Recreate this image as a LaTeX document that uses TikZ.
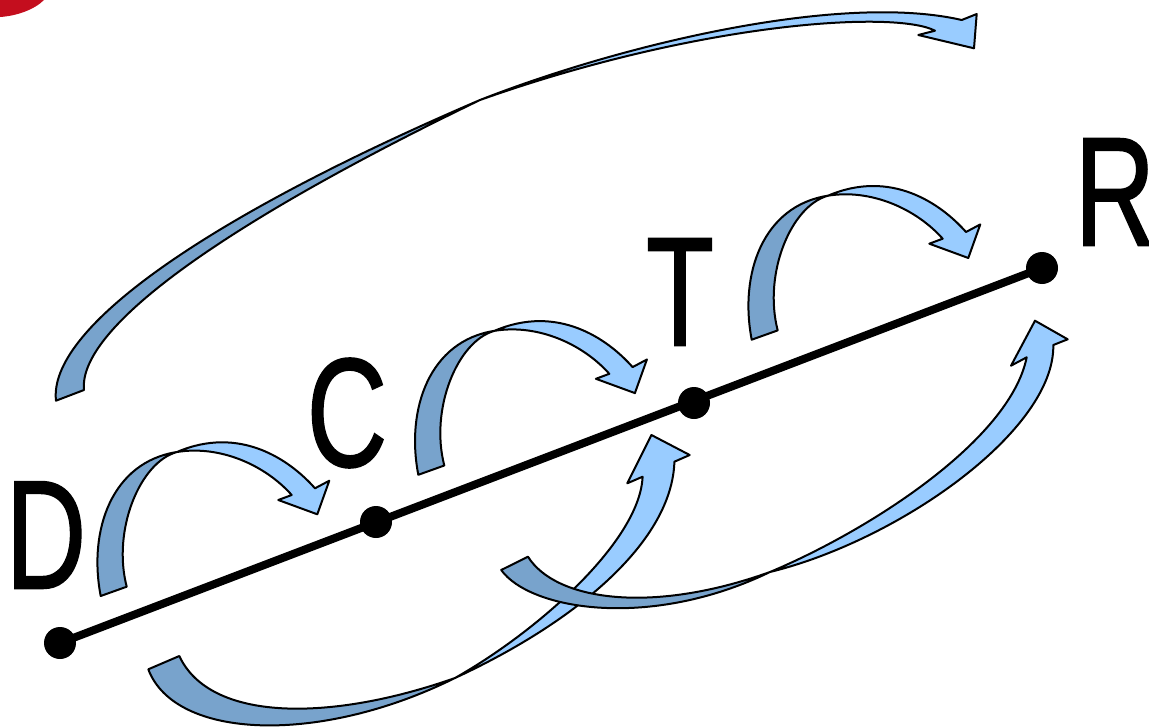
\documentclass[tikz,border=0pt]{standalone}
\usepackage{fontspec}
\setmainfont{Liberation Sans}
\newfontfamily\labelfont[FakeBold=1.2]{Liberation Sans}
\definecolor{ribbonfront}{HTML}{99CCFF}
\definecolor{ribbonback}{HTML}{78A3CC}
\definecolor{cornerred}{HTML}{C40E1E}

\begin{document}
\begin{tikzpicture}[x=1pt,y=-1pt,
    front/.style={fill=ribbonfront, draw=black, line width=2pt, line join=round},
    back/.style={fill=ribbonback, draw=black, line width=2pt, line join=round},
    stop/.style={circle, fill=black, inner sep=0pt, minimum size=32pt},
    letter/.style={font=\labelfont\fontsize{155}{155}\selectfont, inner sep=0pt, xscale=0.72}]
    \path[use as bounding box] (0,0) rectangle (1149,728);

    % Corner of a red shape cut by the frame.
    \fill[cornerred] (0,0) -- (44,0) .. controls (34,10) and (16,16) .. (0,17) -- cycle;

    % Short hops between neighbouring stops: one ribbon, shifted.
    \foreach \dx/\dy in {0/0,317.6/-121.2,651/-256.3} {
      \begin{scope}[shift={(\dx,\dy)}]
        \draw[back] (100.7,596) .. controls (88,530) and (112,462) .. (177,452)
          .. controls (140,462) and (112,530) .. (126.7,586.7) -- cycle;
        \draw[front] (177,452) .. controls (240,425) and (290,460) .. (315,488.3)
          -- (329.3,480.7) -- (317.3,514.3) -- (278.3,500) -- (291.7,495)
          .. controls (265,465) and (220,445) .. (177,452) -- cycle;
      \end{scope}
    }

    % Long hop over the top, D to beyond R.
    \draw[back] (56,400.7) .. controls (48,330) and (200,220) .. (480,100)
      .. controls (215,228) and (78,330) .. (84,390) -- cycle;
    \draw[front] (480,100) .. controls (620,45) and (840,-8) .. (961.7,20)
      -- (976.7,14) -- (974,48.3) -- (918.3,35) -- (935,30.7)
      .. controls (895,10) and (700,22) .. (480,100) -- cycle;

    % Hops under the line: D to T, then C to R.
    \draw[back] (148.3,669.3) .. controls (175,740) and (320,745) .. (455,678)
      .. controls (330,722) and (210,722) .. (179.3,656) -- cycle;
    \draw[front] (455,678) .. controls (540,630) and (640,540) .. (642.6,476.7)
      -- (627.3,483.3) -- (651.4,435) -- (689.7,455) -- (674.4,461.7)
      .. controls (672,540) and (580,620) .. (455,678) -- cycle;
    \draw[back] (501.2,570) .. controls (530,610) and (650,630) .. (770,572)
      .. controls (650,615) and (555,600) .. (528,556.7) -- cycle;
    \draw[front] (770,572) .. controls (870,530) and (1010,440) .. (1026.7,357.3)
      -- (1011,365.7) -- (1035,320.7) -- (1067.7,339.3) -- (1053.3,345)
      .. controls (1055,430) and (900,540) .. (770,572) -- cycle;

    % The four stops on one line.
    \node[stop] (D) at (60,643) {};
    \node[stop] (C) at (376,522) {};
    \node[stop] (T) at (694,403) {};
    \node[stop] (R) at (1042,268) {};
    \draw[line width=8pt] (D.center) -- (R.center);

    \node[letter] (labD) at (46,535) {D};
    \node[letter] (labC) at (347,413) {C};
    \node[letter] (labT) at (680,292) {T};
    \node[letter] (labR) at (1115,192) {R};
\end{tikzpicture}
\end{document}
